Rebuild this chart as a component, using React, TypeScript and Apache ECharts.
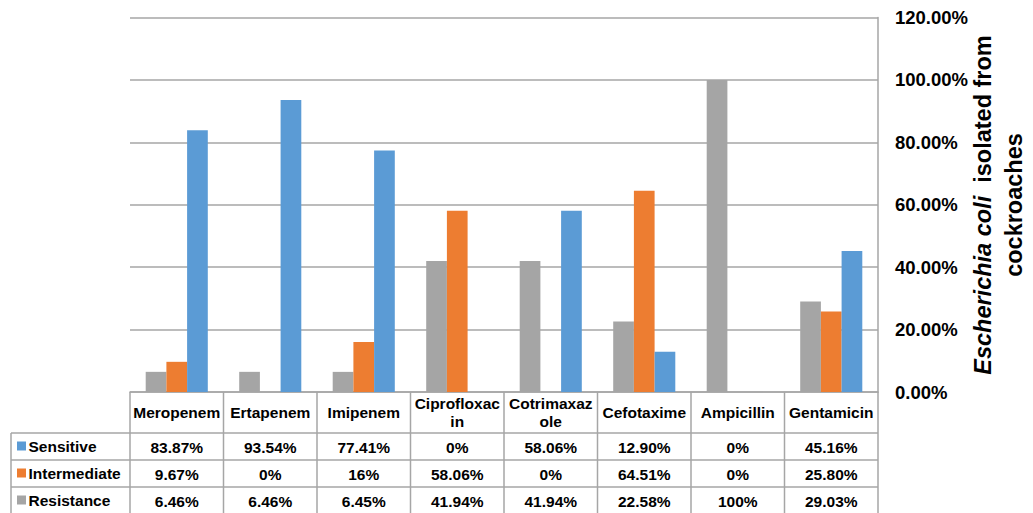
import React, { useEffect, useRef } from "react";
import * as echarts from "echarts";

const categories = ["Meropenem", "Ertapenem", "Imipenem", "Ciprofloxacin", "Cotrimaxazole", "Cefotaxime", "Ampicillin", "Gentamicin"];
const headerLabels = ["Meropenem", "Ertapenem", "Imipenem", "Ciprofloxac\nin", "Cotrimaxaz\nole", "Cefotaxime", "Ampicillin", "Gentamicin"];
const sensitive = [83.87, 93.54, 77.41, 0, 58.06, 12.9, 0, 45.16];
const intermediate = [9.67, 0, 16, 58.06, 0, 64.51, 0, 25.8];
const resistance = [6.46, 6.46, 6.45, 41.94, 41.94, 22.58, 100, 29.03];
const yTicks = [0, 20, 40, 60, 80, 100, 120];

const FONT = "'Liberation Sans', Arial, Helvetica, sans-serif";
const GRAY = "#A5A5A5";
const ORANGE = "#ED7D31";
const BLUE = "#5B9BD5";
const LINE = "#A6A6A6";

const fmt = (v: number) => (Number.isInteger(v) ? `${v}%` : `${v.toFixed(2)}%`);

export default function App() {
  const ref = useRef<HTMLDivElement>(null);
  useEffect(() => {
    if (!ref.current) return;
    const chart = echarts.init(ref.current, null, { renderer: "svg" });

    const W = 1033;
    const plotLeft = 130;
    const plotRight = 878;
    const plotTop = 17.5;
    const plotBottom = 392;
    const rowBounds = [433, 460, 487, 514];
    const tableLeft = 11;
    const colW = (plotRight - plotLeft) / categories.length;

    const rows = [
      { name: "Sensitive", color: BLUE, values: sensitive },
      { name: "Intermediate", color: ORANGE, values: intermediate },
      { name: "Resistance", color: GRAY, values: resistance },
    ];

    const lineStyle = { stroke: LINE, lineWidth: 1.5 };
    const graphics: any[] = [];
    rowBounds.slice(0, 3).forEach((y) => {
      graphics.push({ type: "line", shape: { x1: tableLeft, y1: y, x2: plotRight, y2: y }, style: lineStyle });
    });
    graphics.push({ type: "line", shape: { x1: tableLeft, y1: rowBounds[0], x2: tableLeft, y2: 513 }, style: lineStyle });
    for (let i = 0; i <= categories.length; i++) {
      const x = plotLeft + i * colW;
      graphics.push({ type: "line", shape: { x1: x, y1: plotBottom, x2: x, y2: 513 }, style: lineStyle });
    }
    headerLabels.forEach((lab, i) => {
      graphics.push({
        type: "text",
        x: plotLeft + (i + 0.5) * colW,
        y: (plotBottom + rowBounds[0]) / 2,
        style: {
          text: lab,
          align: "center",
          verticalAlign: "middle",
          font: `bold 15.5px ${FONT}`,
          lineHeight: 18,
          fill: "#000",
        },
      });
    });
    rows.forEach((r, ri) => {
      const yc = (rowBounds[ri] + rowBounds[ri + 1]) / 2;
      graphics.push({ type: "rect", shape: { x: 17, y: yc - 5, width: 9, height: 9 }, style: { fill: r.color } });
      graphics.push({
        type: "text",
        x: 28.5,
        y: yc,
        style: { text: r.name, align: "left", verticalAlign: "middle", font: `bold 15.5px ${FONT}`, fill: "#000" },
      });
      r.values.forEach((v, i) => {
        graphics.push({
          type: "text",
          x: plotLeft + (i + 0.5) * colW,
          y: yc + 0.5,
          style: { text: fmt(v), align: "center", verticalAlign: "middle", font: `bold 15.5px ${FONT}`, fill: "#000" },
        });
      });
    });
    graphics.push({
      type: "text",
      x: 998,
      y: 205,
      rotation: Math.PI / 2,
      style: {
        text: "{i|Escherichia coli}  isolated from\ncockroaches",
        align: "center",
        verticalAlign: "middle",
        fontFamily: FONT,
        fontWeight: "bold",
        fontSize: 23.5,
        lineHeight: 31,
        fill: "#000",
        rich: {
          i: { fontStyle: "italic", fontWeight: "bold", fontSize: 23.5, fontFamily: FONT, fill: "#000", lineHeight: 31 },
        },
      },
    });

    chart.setOption({
      animation: false,
      backgroundColor: "#fff",
      grid: { left: plotLeft, right: W - plotRight, top: plotTop, bottom: 513 - plotBottom, containLabel: false },
      xAxis: {
        type: "category",
        data: categories,
        axisLabel: { show: false },
        axisTick: { show: false },
        axisLine: { show: true, lineStyle: { color: LINE, width: 1.5 } },
      },
      yAxis: {
        type: "value",
        position: "right",
        min: yTicks[0],
        max: yTicks[yTicks.length - 1],
        interval: yTicks[1] - yTicks[0],
        axisLine: { show: true, lineStyle: { color: LINE, width: 1.5 } },
        axisTick: { show: false },
        splitLine: { lineStyle: { color: LINE, width: 1.5 } },
        axisLabel: {
          margin: 17,
          color: "#000",
          fontWeight: "bold",
          fontSize: 18.5,
          fontFamily: FONT,
          formatter: (v: number) => `${v.toFixed(2)}%`,
        },
      },
      series: [
        { name: "Resistance", type: "bar", data: resistance, itemStyle: { color: GRAY }, barWidth: 20.7, barGap: "0%" },
        { name: "Intermediate", type: "bar", data: intermediate, itemStyle: { color: ORANGE }, barWidth: 20.7, barGap: "0%" },
        { name: "Sensitive", type: "bar", data: sensitive, itemStyle: { color: BLUE }, barWidth: 20.7, barGap: "0%" },
      ],
      graphic: graphics,
    });
    return () => chart.dispose();
  }, []);
  return <div ref={ref} style={{ position: "fixed", left: 0, top: 0, width: 1033, height: 513 }} />;
}
